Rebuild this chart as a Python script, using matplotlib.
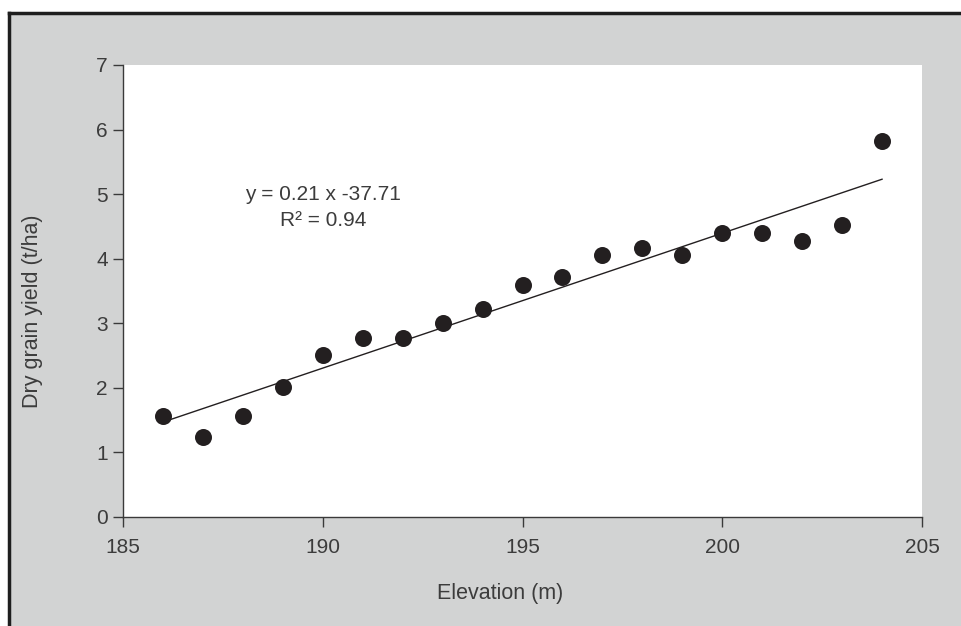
import numpy as np
import matplotlib
matplotlib.use("Agg")
import matplotlib.pyplot as plt
from matplotlib.patches import Rectangle
from matplotlib.lines import Line2D

plt.rcParams['font.family'] = ['Liberation Sans', 'DejaVu Sans']

# data
elevation = [186, 187, 188, 189, 190, 191, 192, 193, 194, 195,
             196, 197, 198, 199, 200, 201, 202, 203, 204]
grain_yield = [1.57, 1.24, 1.57, 2.02, 2.51, 2.77, 2.77, 3.00, 3.22, 3.59,
               3.71, 4.05, 4.17, 4.05, 4.40, 4.40, 4.28, 4.52, 5.82]
x_ticks = [185, 190, 195, 200, 205]
y_ticks = [0, 1, 2, 3, 4, 5, 6, 7]
equation = "y = 0.21 x -37.71"
r_squared = "R\u00b2 = 0.94"

ink = "#231f20"
axis_col = "#3a3a3a"
text_col = "#3c3c3c"
panel = "#d2d3d3"

fig = plt.figure(figsize=(9.62, 6.26), dpi=100)
fig.patch.set_facecolor("white")

# grey panel with dark border on left and top
x0, y0 = 9 / 962, 1 - 13 / 626
fig.add_artist(Rectangle((x0, 0), 1 - x0, y0, transform=fig.transFigure,
                         facecolor=panel, edgecolor="none", zorder=0))
fig.add_artist(Line2D([x0, x0], [0, y0], transform=fig.transFigure,
                      color="#1e1e1e", lw=2.5, zorder=1))
fig.add_artist(Line2D([x0, 1], [y0, y0], transform=fig.transFigure,
                      color="#1e1e1e", lw=2.5, zorder=1))

ax = fig.add_axes([123 / 962, 1 - 517 / 626, (922 - 123) / 962, (517 - 65) / 626])
ax.set_facecolor("white")

ax.scatter(elevation, grain_yield, s=150, color=ink, zorder=3, linewidths=0)

slope, intercept = np.polyfit(elevation, grain_yield, 1)
xs = np.array([elevation[0], elevation[-1]])
ax.plot(xs, slope * xs + intercept, color=ink, lw=1.0, zorder=2)

# equation text, placed in figure pixels (origin bottom-left)
ax.text(323, 626 - 195, equation, transform=None, fontsize=15, color=text_col,
        ha="center", va="center")
ax.text(323, 626 - 220, r_squared, transform=None, fontsize=15, color=text_col,
        ha="center", va="center")

ax.set_xlim(185, 205)
ax.set_ylim(0, 7)
ax.set_xticks(x_ticks)
ax.set_yticks(y_ticks)

for side in ["top", "right"]:
    ax.spines[side].set_visible(False)
for side in ["left", "bottom"]:
    ax.spines[side].set_color(axis_col)
    ax.spines[side].set_linewidth(1.0)

ax.tick_params(axis="both", direction="out", length=7, width=1.0,
               color=axis_col, labelsize=15, labelcolor=text_col)
ax.tick_params(axis="x", pad=8)
ax.tick_params(axis="y", pad=4)

ax.set_xlabel("Elevation (m)", fontsize=15.5, color=text_col)
ax.set_ylabel("Dry grain yield (t/ha)", fontsize=15.5, color=text_col)
ax.xaxis.set_label_coords(0.472, -0.145)
ax.yaxis.set_label_coords(-0.100, 0.456)

fig.savefig("out.png", dpi=100)
